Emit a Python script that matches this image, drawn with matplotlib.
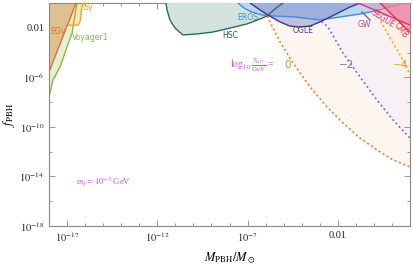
import numpy as np
import matplotlib
matplotlib.use('Agg')
import matplotlib.pyplot as plt
from matplotlib.ticker import FixedLocator, FixedFormatter

plt.rcParams['font.family'] = ['Liberation Serif', 'DejaVu Serif']
plt.rcParams['mathtext.fontset'] = 'stix'

# data, all in log10 units (x = log10 M/Msun, y = log10 f_PBH)
voy_x = [-18.0, -17.78, -17.39, -17.0, -16.72, -16.45]
voy_y = [-7.59, -6.21, -5.17, -3.55, -2.42, 0.0]

egg_x = [-18.0, -16.5]
egg_y = [-5.57, 0.0]

gg_x = [-16.95, -16.39, -16.28, -16.17, -16.12]
gg_y = [-1.78, -1.78, -1.53, -0.32, 0.0]

hsc_x = [-11.52, -11.46, -11.30, -11.02, -10.58, -9.80, -8.91, -7.97, -7.03, -6.31, -5.92, -5.48, -5.04]
hsc_y = [0.0, -0.56, -1.37, -2.02, -2.58, -2.50, -2.34, -2.02, -1.69, -1.29, -1.05, -0.48, 0.0]

eros_x = [-7.53, -7.20, -6.75, -6.20, -5.48, -4.37, -2.99, -1.88, -0.77, 0.06, 0.89, 1.72, 2.0]
eros_y = [0.0, -0.40, -0.73, -0.97, -1.05, -1.13, -1.37, -1.13, -0.89, -0.65, -0.32, 0.0, 0.08]

ogle_x = [-6.86, -6.31, -5.87, -5.20, -4.65, -4.09, -3.54, -2.99, -2.43, -1.88, -1.32, -0.77]
ogle_y = [0.0, -0.56, -0.97, -1.53, -1.86, -1.94, -1.86, -1.53, -1.13, -0.73, -0.32, 0.0]

segue_x = [-0.88, 2.0]
segue_y = [0.0, -1.78]

cmb_x = [0.34, 2.0]
cmb_y = [0.0, -2.36]

gw_x = [-0.66, -0.22]
gw_y = [-0.73, -1.37]

tkd0_x = [-6.03, -6.03, -5.87, -5.76, -5.20, -4.48, -3.54, -2.60, -1.71, -0.77, 0.17, 1.06, 2.0]
tkd0_y = [0.0, -0.89, -1.13, -1.53, -3.15, -4.84, -6.78, -8.39, -9.69, -10.90, -11.86, -12.67, -13.24]

tkd2_x = [-2.93, -2.93, -2.54, -1.71, -0.77, 0.17, 1.06, 1.83, 2.0]
tkd2_y = [0.0, -1.45, -1.94, -4.04, -5.97, -7.83, -9.44, -10.65, -10.90]

tkd4_x = [0.23, 0.23, 0.34, 1.06, 1.83, 2.0]
tkd4_y = [0.0, -0.97, -1.37, -3.23, -5.17, -5.81]

xticks = [-17, -12, -7, -2]
xticklabels = [r'$10^{-17}$', r'$10^{-12}$', r'$10^{-7}$', '0.01']
yticks = [-2, -6, -10, -14, -18]
yticklabels = ['0.01', r'$10^{-6}$', r'$10^{-10}$', r'$10^{-14}$', r'$10^{-18}$']

fig = plt.figure(figsize=(4.13, 2.67), dpi=100)
ax = fig.add_axes([49/413, 1 - 226/267, 361/413, 223/267])
ax.set_xscale('log')
ax.set_yscale('log')

TOP = 0.5


def region(xs, ys, fc, ec, ls='-', lw=1.0, alpha=1.0, z=1):
    xs = np.array(xs)
    ys = np.array(ys)
    px = np.r_[xs, xs[-1], xs[0]]
    py = np.r_[ys, TOP, TOP]
    if fc is not None:
        ax.fill(10**px, 10**py, fc=fc, ec='none', alpha=alpha, zorder=z)
    ax.plot(10**xs, 10**ys, color=ec, ls=ls, lw=lw, zorder=z + 0.5)


# T_KD contours
dot = (0, (1.2, 1.6))
region(tkd0_x, tkd0_y, '#fdf5ef', '#e8803a', ls=dot, lw=1.2, z=1)
region(tkd2_x, tkd2_y, '#f7f1f5', '#7872c0', ls=dot, lw=1.2, z=1.1)
region(tkd4_x, tkd4_y, '#fdf1e3', '#f3a428', ls=dot, lw=1.2, z=1.2)

# left constraints
region(voy_x, voy_y, '#e4f0d5', '#8cb840', z=2)
region(gg_x, gg_y, '#fde4b8', '#f5a623', z=2.1)
region(egg_x, egg_y, '#dcc192', '#ee6a2a', z=2.2)

# microlensing
region(hsc_x, hsc_y, '#d2e3de', '#2e6b5c', z=3)
region(eros_x, eros_y, '#bcd6f0', '#3d8fd8', z=3.1)
region(ogle_x, ogle_y, '#7d80c8', '#3b3889', alpha=0.45, z=3.2)

# right constraints
region(segue_x, segue_y, '#e48ab8', '#e0308a', alpha=0.5, z=4)
region(cmb_x, cmb_y, '#f0809e', '#e8304a', alpha=0.65, z=4.1)
ax.plot(10**np.array(gw_x), 10**np.array(gw_y), color='#8a5aa0', lw=1.0, zorder=4.5)

# labels
sans = ['DejaVu Sans']
lab = dict(ha='center', va='center', fontsize=5.6, family=sans, zorder=6)
ax.text(10**-17.5, 10**-2.34, 'EGγ', color='#ee6a2a', **lab)
ax.text(10**-15.84, 10**-0.40, 'Gγ', color='#f0a020', **lab)
ax.text(10**-15.73, 10**-2.82, 'Voyager1', color='#8cb840', **lab)
ax.text(10**-7.97, 10**-2.66, 'HSC', color='#2e5a52', **lab)
ax.text(10**-6.97, 10**-1.21, 'EROS', color='#3d8fd8', **lab)
ax.text(10**-3.93, 10**-2.26, 'OGLE', color='#4a4090', **lab)
ax.text(10**-0.55, 10**-1.74, 'GW', color='#8a5aa0', **lab)
ax.text(10**0.5, 10**-1.25, 'SEGUE', color='#e0307a', rotation=-32, **lab)
ax.text(10**1.5, 10**-2.2, 'CMB', color='#e8304a', rotation=-52, **lab)

ax.text(10**-6.75, 10**-5.0, r'$\log_{10}\frac{T_{\rm KD}}{\rm GeV}$ =', color='#c850c8',
        ha='center', va='center', fontsize=7, zorder=6)
ax.text(10**-4.76, 10**-5.0, '0', color='#e8803a', ha='center', va='center', fontsize=7.5, family=sans, zorder=6)
ax.text(10**-1.49, 10**-5.0, '−2', color='#7872b0', ha='center', va='center', fontsize=7.5, family=sans, zorder=6)
ax.text(10**1.5, 10**-5.0, '−4', color='#f0a020', ha='center', va='center', fontsize=7.5, family=sans, zorder=6)
ax.text(10**-15.0, 10**-14.5, r'$m_\chi = 10^{-3}$ GeV', color='#c850c8',
        ha='center', va='center', fontsize=6.3, zorder=6)

# axes
ax.set_xlim(1e-18, 1e2)
ax.set_ylim(1e-18, 1)
ax.xaxis.set_major_locator(FixedLocator([10.0**v for v in xticks]))
ax.xaxis.set_major_formatter(FixedFormatter(xticklabels))
ax.xaxis.set_minor_locator(FixedLocator([10.0**v for v in range(-18, 3)]))
ax.yaxis.set_major_locator(FixedLocator([10.0**v for v in yticks]))
ax.yaxis.set_major_formatter(FixedFormatter(yticklabels))
ax.yaxis.set_minor_locator(FixedLocator([10.0**v for v in range(-18, 1, 2)]))
ax.xaxis.set_minor_formatter(FixedFormatter([]))
ax.yaxis.set_minor_formatter(FixedFormatter([]))
ax.tick_params(which='both', direction='in', top=True, right=True, colors='#888888',
               labelcolor='#222222', labelsize=7.5, width=0.6)
ax.tick_params(which='major', length=4)
ax.tick_params(which='minor', length=2)
for s in ax.spines.values():
    s.set_color('#888888')
    s.set_linewidth(0.8)

ax.set_xlabel(r'$M_{\rm PBH}/M_\odot$', fontsize=9, labelpad=4)
ax.set_ylabel(r'$f_{\rm PBH}$', fontsize=9, labelpad=2)

fig.savefig('out.png', dpi=100)
